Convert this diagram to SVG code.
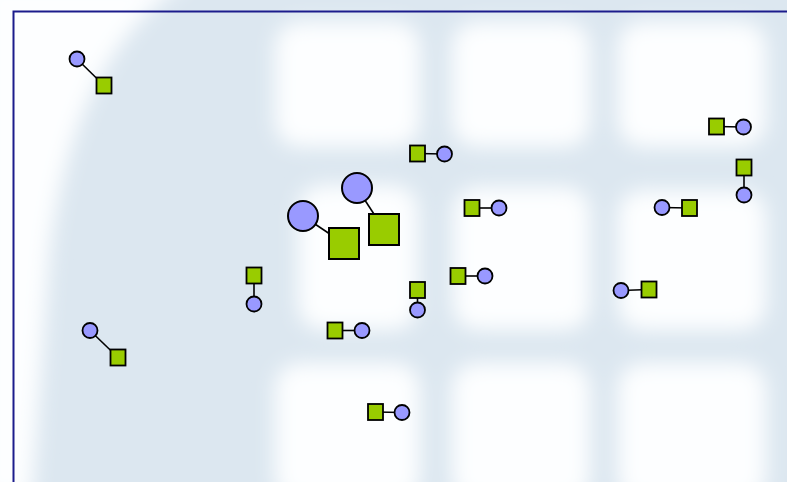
<svg xmlns="http://www.w3.org/2000/svg" width="787" height="482" viewBox="0 0 787 482">
<defs>
<filter id="blur" x="-30%" y="-30%" width="160%" height="160%"><feGaussianBlur stdDeviation="10"/></filter>
<style>
.c{fill:#9999ff;stroke:#000;stroke-width:1.8}
.s{fill:#99cc00;stroke:#000;stroke-width:1.8}
.cb{fill:#9999ff;stroke:#000;stroke-width:2}
.sb{fill:#99cc00;stroke:#000;stroke-width:2}
.e{stroke:#000;stroke-width:1.6;fill:none}
</style>
</defs>
<g id="background">
<rect x="0" y="0" width="787" height="482" fill="#dce7f0"/>
<g filter="url(#blur)" fill="#fdfeff">
<path d="M -20 -20 L 190 -20 Q 75 50 50 250 L 32 500 L -20 500 Z"/>
<rect x="275" y="22" width="145" height="125" rx="25"/>
<rect x="452" y="22" width="138" height="125" rx="25"/>
<rect x="618" y="22" width="148" height="125" rx="25"/>
<rect x="298" y="185" width="120" height="145" rx="25"/>
<rect x="453" y="187" width="137" height="143" rx="25"/>
<rect x="618" y="190" width="148" height="140" rx="25"/>
<rect x="275" y="363" width="145" height="140" rx="25"/>
<rect x="452" y="363" width="138" height="140" rx="25"/>
<rect x="618" y="363" width="148" height="140" rx="25"/>
</g>
</g>
<rect id="frame" x="13.5" y="11.5" width="800" height="500" fill="none" stroke="#1c1c8c" stroke-width="2"/>
<g id="connectors">
<line class="e" x1="77" y1="59" x2="104" y2="85.5"/>
<line class="e" x1="303" y1="216" x2="344" y2="243.5"/>
<line class="e" x1="357" y1="188" x2="384" y2="229.5"/>
<line class="e" x1="417.5" y1="153.5" x2="444.5" y2="154"/>
<line class="e" x1="716.5" y1="126.5" x2="743.5" y2="127"/>
<line class="e" x1="744" y1="167.5" x2="744" y2="195"/>
<line class="e" x1="662" y1="207.5" x2="689.5" y2="208"/>
<line class="e" x1="472" y1="208" x2="499" y2="208"/>
<line class="e" x1="458" y1="276" x2="485" y2="276"/>
<line class="e" x1="417.5" y1="290" x2="417.5" y2="310"/>
<line class="e" x1="254" y1="275.5" x2="254" y2="304"/>
<line class="e" x1="621" y1="290.5" x2="649" y2="289.5"/>
<line class="e" x1="90" y1="330.5" x2="118" y2="357.5"/>
<line class="e" x1="335" y1="330.5" x2="362" y2="330.5"/>
<line class="e" x1="375.5" y1="412" x2="402" y2="412.5"/>
</g>
<g id="c1"><circle class="c" cx="77" cy="59" r="7.5"/></g>
<g id="s1"><rect class="s" x="96.5" y="77.5" width="15" height="16"/></g>
<g id="c2"><circle class="cb" cx="303" cy="216" r="15"/></g>
<g id="s2"><rect class="sb" x="329" y="228" width="30" height="31"/></g>
<g id="c3"><circle class="cb" cx="357" cy="188" r="15"/></g>
<g id="s3"><rect class="sb" x="369" y="214" width="30" height="31"/></g>
<g id="s4"><rect class="s" x="410" y="145.5" width="15" height="16"/></g>
<g id="c4"><circle class="c" cx="444.5" cy="154" r="7.5"/></g>
<g id="s5"><rect class="s" x="709" y="118.5" width="15" height="16"/></g>
<g id="c5"><circle class="c" cx="743.5" cy="127" r="7.5"/></g>
<g id="s6"><rect class="s" x="736.5" y="159.5" width="15" height="16"/></g>
<g id="c6"><circle class="c" cx="744" cy="195" r="7.5"/></g>
<g id="c7"><circle class="c" cx="662" cy="207.5" r="7.5"/></g>
<g id="s7"><rect class="s" x="682" y="200" width="15" height="16"/></g>
<g id="s8"><rect class="s" x="464.5" y="200" width="15" height="16"/></g>
<g id="c8"><circle class="c" cx="499" cy="208" r="7.5"/></g>
<g id="s9"><rect class="s" x="450.5" y="268" width="15" height="16"/></g>
<g id="c9"><circle class="c" cx="485" cy="276" r="7.5"/></g>
<g id="s10"><rect class="s" x="410" y="282" width="15" height="16"/></g>
<g id="c10"><circle class="c" cx="417.5" cy="310" r="7.5"/></g>
<g id="s11"><rect class="s" x="246.5" y="267.5" width="15" height="16"/></g>
<g id="c11"><circle class="c" cx="254" cy="304" r="7.5"/></g>
<g id="c12"><circle class="c" cx="621" cy="290.5" r="7.5"/></g>
<g id="s12"><rect class="s" x="641.5" y="281.5" width="15" height="16"/></g>
<g id="c13"><circle class="c" cx="90" cy="330.5" r="7.5"/></g>
<g id="s13"><rect class="s" x="110.5" y="349.5" width="15" height="16"/></g>
<g id="s14"><rect class="s" x="327.5" y="322.5" width="15" height="16"/></g>
<g id="c14"><circle class="c" cx="362" cy="330.5" r="7.5"/></g>
<g id="s15"><rect class="s" x="368" y="404" width="15" height="16"/></g>
<g id="c15"><circle class="c" cx="402" cy="412.5" r="7.5"/></g>
</svg>
